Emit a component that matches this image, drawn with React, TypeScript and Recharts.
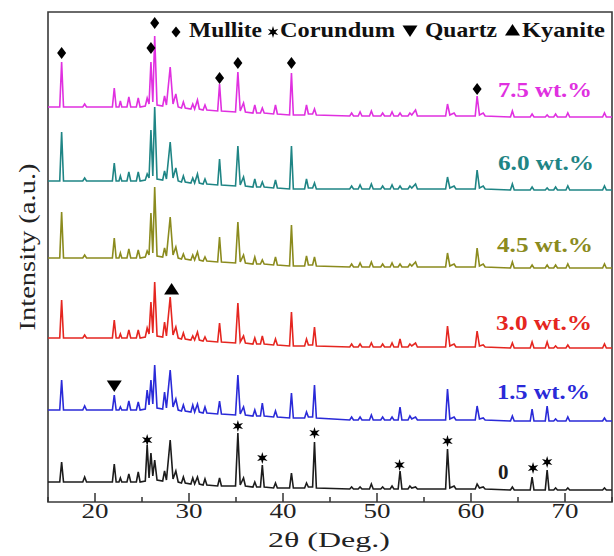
import { ComposedChart, Line, Scatter, XAxis, YAxis, ReferenceArea } from 'recharts';

// 2θ positions (deg) of the traced vertices, shared by every pattern
const twoTheta = [
  15,
  16.25, 16.45, 16.65,
  18.7, 18.9, 19.1,
  21.85, 22.05, 22.25,
  22.55, 22.7, 22.85,
  23.4, 23.6, 23.8,
  24.4, 24.6, 24.8,
  25.35, 25.55, 25.75, 25.95, 26.15, 26.35, 26.6,
  27.2, 27.4, 27.6, 28.0, 28.3, 28.6, 28.85,
  29.2, 29.4, 29.6,
  30.2, 30.4, 30.6, 30.9, 31.1,
  31.5, 31.7, 31.9,
  33.05, 33.25, 33.45,
  34.95, 35.2, 35.45, 35.8, 36.0,
  36.8, 37.0, 37.2,
  37.6, 37.8, 38.0,
  39.0, 39.2, 39.4,
  40.7, 40.9, 41.1,
  42.3, 42.5, 42.7, 43.15, 43.35, 43.55,
  47.1, 47.3, 47.5,
  48.0, 48.2, 48.4,
  49.2, 49.4, 49.6,
  50.4, 50.6, 50.8,
  51.4, 51.6, 51.8,
  52.25, 52.45, 52.65,
  53.3, 53.5, 53.7, 54.1, 54.3,
  57.3, 57.5, 57.75, 58.2, 58.4,
  60.45, 60.65, 60.9, 61.3, 61.5,
  64.2, 64.4, 64.6,
  66.3, 66.5, 66.7,
  67.9, 68.1, 68.3,
  68.8, 69.0, 69.2,
  70.1, 70.3, 70.5,
  74.0, 74.2, 74.4,
  75,
];

// intensities (a.u.), one value per 2θ above
const int75 = [
  10, 10, 55, 10, 10, 13, 10, 10, 29, 10, 10, 16, 10, 10, 20, 10, 10, 19, 10,
  11, 19, 13, 55, 15, 81, 12,
  11, 21, 12, 50, 13, 23, 10,
  9, 15, 9, 8, 13, 8, 17, 8, 7, 12, 7, 6, 33, 6,
  5, 45, 6, 14, 5, 4, 12, 4, 4, 9, 4, 3, 12, 3, 2, 44, 2,
  2, 12, 3, 3, 8, 2,
  1, 4, 1, 1, 5, 1, 1, 6, 1, 1, 4, 1, 1, 5, 1, 1, 4, 1,
  1, 4, 2, 7, 1, 1, 13, 2, 4, 1, 1, 21, 2, 4, 1,
  0, 6, 0, 0, 3, 0, 0, 2, 0, 0, 3, 0, 0, 4, 0, 0, 4, 0,
  0,
];
const int60 = [
  9, 9, 58, 9, 9, 12, 9, 9, 27, 9, 9, 14, 9, 9, 18, 9, 9, 18, 9,
  10, 16, 12, 60, 14, 83, 11,
  10, 19, 11, 48, 12, 22, 9,
  8, 14, 8, 7, 12, 7, 16, 7, 6, 11, 6, 5, 31, 5,
  4, 44, 5, 13, 4, 3, 11, 3, 3, 8, 3, 2, 10, 2, 1, 44, 1,
  1, 11, 2, 2, 7, 1,
  1, 4, 1, 1, 5, 1, 1, 6, 1, 1, 4, 1, 1, 5, 1, 1, 4, 1,
  1, 4, 2, 6, 1, 1, 13, 2, 4, 1, 1, 20, 2, 4, 1,
  0, 6, 0, 0, 3, 0, 0, 2, 0, 0, 3, 0, 0, 4, 0, 0, 4, 0,
  0,
];
const int45 = [
  10, 10, 56, 10, 10, 13, 10, 10, 30, 10, 10, 15, 10, 10, 19, 10, 10, 18, 10,
  11, 17, 13, 55, 15, 81, 12,
  11, 20, 12, 51, 13, 21, 10,
  9, 14, 9, 8, 13, 8, 16, 8, 7, 11, 7, 6, 31, 6,
  5, 46, 6, 13, 5, 4, 11, 4, 4, 8, 4, 3, 11, 3, 2, 43, 2,
  2, 12, 3, 3, 11, 2,
  1, 4, 1, 1, 5, 1, 1, 6, 1, 1, 4, 1, 1, 5, 1, 1, 4, 1,
  1, 4, 2, 6, 1, 1, 15, 2, 4, 1, 1, 20, 2, 4, 1,
  0, 6, 0, 0, 3, 0, 0, 3, 0, 0, 3, 0, 0, 4, 0, 0, 4, 0,
  0,
];
const int30 = [
  10, 10, 48, 10, 10, 13, 10, 10, 28, 10, 10, 14, 10, 10, 18, 10, 10, 18, 10,
  11, 20, 14, 46, 15, 66, 12,
  11, 26, 12, 51, 13, 21, 10,
  9, 15, 9, 8, 12, 8, 16, 8, 7, 11, 7, 6, 25, 6,
  5, 45, 6, 12, 5, 4, 10, 4, 4, 12, 4, 3, 9, 3, 2, 36, 2,
  2, 9, 3, 3, 21, 2,
  1, 4, 1, 1, 4, 1, 1, 5, 1, 1, 4, 1, 1, 5, 1, 1, 9, 1,
  1, 4, 2, 5, 1, 1, 22, 2, 4, 1, 1, 17, 2, 3, 1,
  0, 5, 0, 0, 6, 0, 0, 6, 0, 0, 2, 0, 0, 3, 0, 0, 4, 0,
  0,
];
const int15 = [
  11, 11, 41, 11, 11, 15, 11, 11, 26, 11, 11, 14, 11, 11, 20, 11, 11, 19, 11,
  12, 31, 16, 41, 17, 56, 13,
  12, 29, 13, 51, 14, 22, 11,
  10, 16, 10, 9, 16, 9, 17, 9, 8, 14, 8, 7, 20, 7,
  6, 46, 7, 14, 6, 5, 11, 5, 5, 18, 5, 4, 10, 4, 3, 28, 3,
  3, 9, 4, 4, 36, 3,
  1, 4, 1, 1, 4, 1, 1, 6, 1, 1, 4, 1, 1, 4, 1, 1, 14, 1,
  1, 5, 2, 4, 1, 1, 32, 2, 4, 1, 1, 15, 2, 3, 1,
  0, 5, 0, 0, 12, 0, 0, 15, 0, 0, 2, 0, 0, 4, 0, 0, 3, 0,
  0,
];
const int0 = [
  8, 8, 28, 8, 8, 13, 8, 8, 26, 8, 8, 12, 8, 8, 16, 8, 8, 18, 8,
  9, 45, 12, 37, 14, 30, 10,
  9, 19, 10, 50, 11, 19, 8,
  7, 13, 7, 6, 12, 6, 13, 6, 5, 11, 5, 4, 12, 4,
  4, 57, 5, 12, 4, 3, 8, 3, 3, 25, 3, 2, 7, 2, 2, 17, 2,
  2, 7, 3, 3, 48, 2,
  1, 3, 1, 1, 3, 1, 1, 6, 1, 1, 3, 1, 1, 4, 1, 1, 19, 1,
  1, 4, 2, 3, 1, 1, 41, 2, 4, 1, 1, 6, 2, 3, 1,
  0, 3, 0, 0, 13, 0, 0, 20, 0, 0, 2, 0, 0, 2, 0, 0, 2, 0,
  0,
];

const sampleNames = ['7.5 wt.%', '6.0 wt.%', '4.5 wt.%', '3.0 wt.%', '1.5 wt.%', '0'];
const sampleIntensities = [int75, int60, int45, int30, int15, int0];
// vertical stacking offset of each pattern (a.u.)
const stackOffsets = [385, 312, 234, 154, 81, 12];
const sampleColors = ['#e030e0', '#1f8585', '#8b8b1e', '#e52620', '#2a2ad8', '#1c1c1c'];

// phase markers: [2θ, height in stacked a.u.]
const mulliteMarks = [[16.45, 449], [25.95, 454], [26.35, 479], [33.25, 424], [35.2, 439], [40.9, 439], [60.65, 413]];
const corundumMarks = [[25.55, 62], [35.2, 76], [37.8, 44], [43.35, 69], [52.4, 37], [57.5, 61], [66.6, 34], [68.1, 40]];
const quartzMarks = [[22.05, 116]];
const kyaniteMarks = [[28.15, 213]];

const xTicks = [15, 20, 25, 30, 35, 40, 45, 50, 55, 60, 65, 70, 75];

const serif = 'Liberation Serif, Tinos, Times New Roman, serif';

const toPoints = (marks: number[][]) => marks.map(([x, y]) => ({ x, y }));

function diamond(cx: number, cy: number, w = 4.5, h = 6) {
  return `${cx},${cy - h} ${cx + w},${cy} ${cx},${cy + h} ${cx - w},${cy}`;
}

function star(cx: number, cy: number, r = 6, r2 = 2.4) {
  const pts: string[] = [];
  for (let i = 0; i < 12; i++) {
    const a = (Math.PI / 6) * i - Math.PI / 2;
    const rad = i % 2 === 0 ? r : r2;
    pts.push(`${cx + rad * Math.cos(a)},${cy + rad * Math.sin(a)}`);
  }
  return pts.join(' ');
}

function triangle(cx: number, cy: number, down: boolean) {
  return down
    ? `${cx - 7.5},${cy - 5.5} ${cx + 7.5},${cy - 5.5} ${cx},${cy + 6}`
    : `${cx - 7.5},${cy + 5.5} ${cx + 7.5},${cy + 5.5} ${cx},${cy - 6}`;
}

function AxisTick(props: any) {
  const { x, y, payload } = props;
  const v = payload.value;
  const major = v % 10 === 0 && v > 15 && v < 75;
  return (
    <g>
      <line x1={x} x2={x} y1={y} y2={y - (major ? 9 : 5)} stroke="#333" strokeWidth={1.5} />
      {major && (
        <text x={x} y={y + 16} textAnchor="middle" style={{ fontFamily: serif }} fontSize={22} fill="#222"
          textLength={27} lengthAdjust="spacingAndGlyphs">
          {v}
        </text>
      )}
    </g>
  );
}

export default function App() {
  const series = sampleIntensities.map((ints, k) =>
    twoTheta.map((x, i) => ({ x, y: stackOffsets[k] + ints[i] }))
  );

  return (
    <div style={{ position: 'absolute', left: 0, top: 0, width: 614, height: 556, background: '#fff' }}>
      <ComposedChart width={614} height={556} margin={{ top: 12, right: 2, bottom: 0, left: 48 }}>
        <XAxis dataKey="x" type="number" domain={[15, 75]} ticks={xTicks} interval={0}
          allowDataOverflow height={54} axisLine={false} tickLine={false} tickSize={0} tickMargin={0}
          tick={(p: any) => <AxisTick {...p} />} />
        <YAxis dataKey="y" type="number" domain={[0, 490]} hide allowDataOverflow />
        <ReferenceArea x1={15} x2={75} y1={0} y2={490} fill="none" fillOpacity={0}
          stroke="#3a3a3a" strokeWidth={1.6} ifOverflow="visible" />
        {series.map((data, k) => (
          <Line key={sampleNames[k]} data={data} dataKey="y" type="linear" stroke={sampleColors[k]}
            strokeWidth={1.6} dot={false} isAnimationActive={false} />
        ))}
        <Scatter data={toPoints(mulliteMarks)} dataKey="y" isAnimationActive={false}
          shape={(p: any) => <polygon points={diamond(p.cx, p.cy)} fill="#000" />} />
        <Scatter data={toPoints(corundumMarks)} dataKey="y" isAnimationActive={false}
          shape={(p: any) => <polygon points={star(p.cx, p.cy)} fill="#000" />} />
        <Scatter data={toPoints(quartzMarks)} dataKey="y" isAnimationActive={false}
          shape={(p: any) => <polygon points={triangle(p.cx, p.cy, true)} fill="#000" />} />
        <Scatter data={toPoints(kyaniteMarks)} dataKey="y" isAnimationActive={false}
          shape={(p: any) => <polygon points={triangle(p.cx, p.cy, false)} fill="#000" />} />
      </ComposedChart>

      <svg width={614} height={556} style={{ position: 'absolute', left: 0, top: 0, pointerEvents: 'none', fontFamily: serif }}>
        <g fontWeight="bold" fontSize={21} fill="#111">
          <polygon points={diamond(176, 32, 4.5, 5.5)} fill="#000" />
          <text x={189} y={37} textLength={73} lengthAdjust="spacingAndGlyphs">Mullite</text>
          <polygon points={star(273, 32, 6, 2.4)} fill="#000" />
          <text x={280} y={37} textLength={115} lengthAdjust="spacingAndGlyphs">Corundum</text>
          <polygon points={triangle(410, 31, true)} fill="#000" />
          <text x={425} y={37} textLength={72} lengthAdjust="spacingAndGlyphs">Quartz</text>
          <polygon points={triangle(512.5, 30, false)} fill="#000" />
          <text x={522} y={37} textLength={83} lengthAdjust="spacingAndGlyphs">Kyanite</text>
        </g>
        <g fontWeight="bold" fontSize={21}>
          <text x={498} y={97} fill={sampleColors[0]} textLength={94} lengthAdjust="spacingAndGlyphs">{sampleNames[0]}</text>
          <text x={498} y={170} fill={sampleColors[1]} textLength={96} lengthAdjust="spacingAndGlyphs">{sampleNames[1]}</text>
          <text x={497} y={252} fill={sampleColors[2]} textLength={96} lengthAdjust="spacingAndGlyphs">{sampleNames[2]}</text>
          <text x={496} y={330} fill={sampleColors[3]} textLength={96} lengthAdjust="spacingAndGlyphs">{sampleNames[3]}</text>
          <text x={497} y={399} fill={sampleColors[4]} textLength={93} lengthAdjust="spacingAndGlyphs">{sampleNames[4]}</text>
          <text x={498} y={479} fill={sampleColors[5]}>{sampleNames[5]}</text>
        </g>
        <text x={268} y={547} fontSize={22} fill="#222" textLength={122}
          lengthAdjust="spacingAndGlyphs">2θ (Deg.)</text>
        <text x={35} y={247} fontSize={23} fill="#222" textAnchor="middle"
          textLength={167} lengthAdjust="spacingAndGlyphs" transform="rotate(-90 35 247)">
          Intensity (a.u.)
        </text>
      </svg>
    </div>
  );
}
